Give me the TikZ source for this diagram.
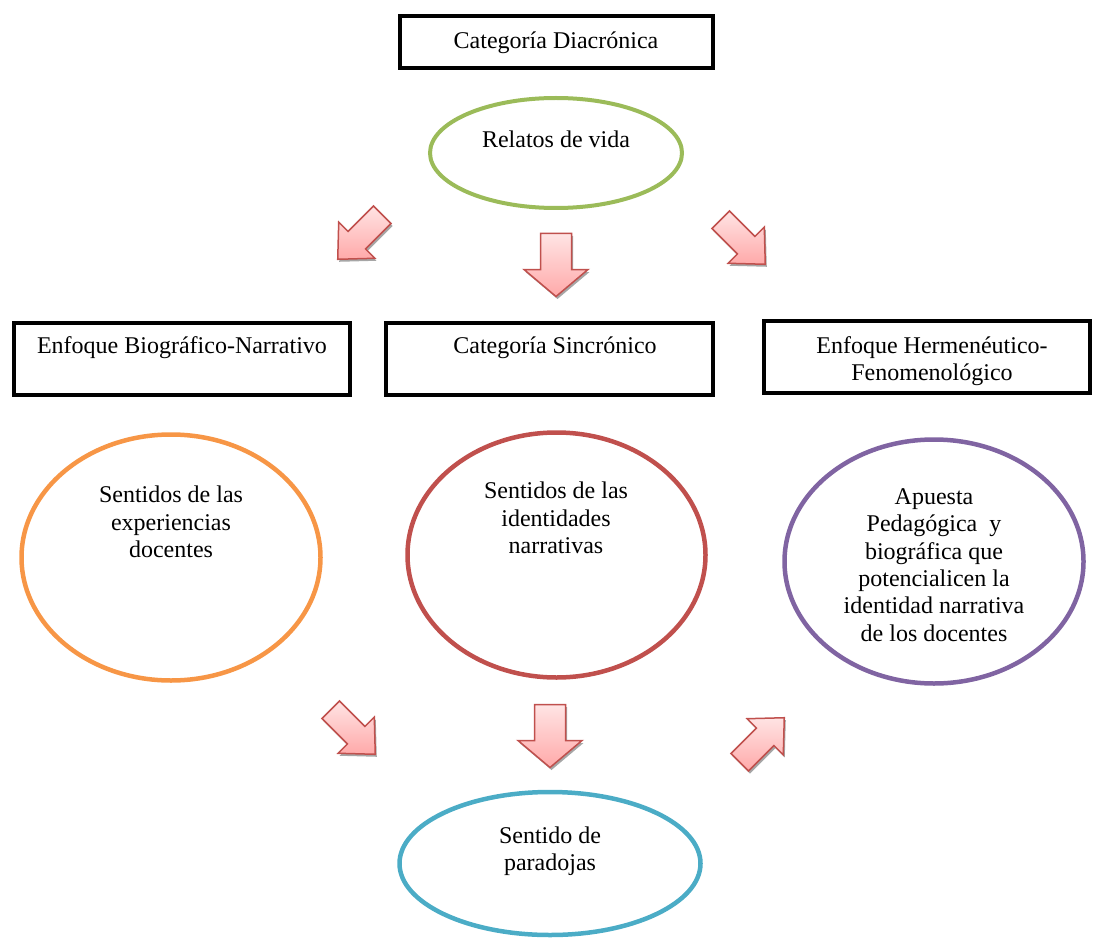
\documentclass[tikz,border=0pt]{standalone}
\usepackage{fontspec}
\setmainfont{Liberation Serif}
\usetikzlibrary{shapes.geometric}

\definecolor{cGreen}{HTML}{9BBB59}
\definecolor{cOrange}{HTML}{F79646}
\definecolor{cRed}{HTML}{C0504D}
\definecolor{cPurple}{HTML}{8064A2}
\definecolor{cTeal}{HTML}{4BACC6}
\definecolor{cPinkLight}{HTML}{FFE4E4}
\definecolor{cPinkDark}{HTML}{FFA9A9}

\tikzset{
	box/.style={draw, line width=4.5pt, inner sep=0pt},
	ell/.style={ellipse, draw, line width=4.5pt, inner sep=0pt},
	txt/.style={align=center, inner sep=0pt},
	bigarrow/.pic={
		\draw[cRed, line width=1.5pt, top color=cPinkLight, bottom color=cPinkDark,
			preaction={fill=black!35, transform canvas={xshift=1.5pt, yshift=-2.5pt}}]
			(-15.5,-31.5) -- (15.5,-31.5) -- (15.5,4.5) -- (32,4.5) -- (0,31.5)
			-- (-32,4.5) -- (-15.5,4.5) -- cycle;
	}
}

\begin{document}
\begin{tikzpicture}[x=1pt, y=-1pt, font=\fontsize{24}{27.4}\selectfont]
	\useasboundingbox (0,0) rectangle (1094,941);
	
	% top
	\node[box, minimum width=313, minimum height=52] (diacro) at (556.5,42) {};
	\node[txt] (diacro-t) at (556,43) {Categoría Diacrónica};
	
	\node[ell, draw=cGreen, line width=4pt, minimum width=252, minimum height=110] (relatos) at (556,153) {};
	\node[txt] (relatos-t) at (556,139) {Relatos de vida};
	
	\pic[rotate=-45, xscale=0.8] (arwTL) at (360,237) {bigarrow};
	\pic (arwTC) at (556,265) {bigarrow};
	\pic[rotate=45, xscale=0.8] (arwTR) at (743,242) {bigarrow};
	
	% middle row
	\node[box, minimum width=336, minimum height=72] (bio) at (182,359) {};
	\node[txt] (bio-t) at (182,348) {Enfoque Biográfico-Narrativo};
	
	\node[box, minimum width=327, minimum height=72] (sincro) at (549.5,359) {};
	\node[txt] (sincro-t) at (555,348) {Categoría Sincrónico};
	
	\node[box, minimum width=326, minimum height=72] (herme) at (927,357) {};
	\node[txt] (herme-t) at (932,361) {Enfoque Hermenéutico-\\Fenomenológico};
	
	\node[ell, draw=cOrange, minimum width=299, minimum height=246] (expe) at (171,557.5) {};
	\node[txt] (expe-t) at (171,522) {Sentidos de las\\experiencias\\docentes};
	
	\node[ell, draw=cRed, minimum width=298, minimum height=245] (ident) at (556.5,555) {};
	\node[txt] (ident-t) at (556,518) {Sentidos de las\\identidades\\narrativas};
	
	\node[ell, draw=cPurple, minimum width=299, minimum height=244] (apuesta) at (934,561.5) {};
	\node[txt] (apuesta-t) at (934,565) {Apuesta\\Pedagógica \ y\\biográfica que\\potencialicen la\\identidad narrativa\\de los docentes};
	
	\pic[rotate=45, xscale=0.8] (arwBL) at (353,732) {bigarrow};
	\pic (arwBC) at (550,736) {bigarrow};
	\pic[rotate=135, xscale=0.8] (arwBR) at (762,740) {bigarrow};
	
	% bottom
	\node[ell, draw=cTeal, minimum width=301, minimum height=143] (paradojas) at (550,863.5) {};
	\node[txt] (paradojas-t) at (550,851.5) {Sentido de\\paradojas};
	
\end{tikzpicture}
\end{document}
